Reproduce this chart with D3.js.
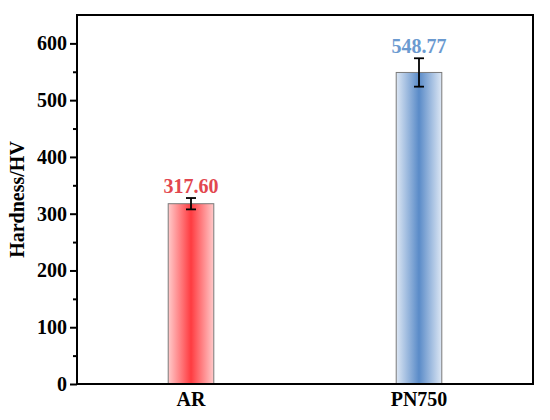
<!DOCTYPE html>
<html>
<head>
<meta charset="utf-8">
<script src="https://cdn.jsdelivr.net/npm/d3@7"></script>
<style>
html,body{margin:0;padding:0;background:#fff;}
svg{display:block;}
text{font-family:"Liberation Serif","Times New Roman",serif;font-weight:bold;}
</style>
</head>
<body>
<svg id="chart" width="550" height="420"></svg>
<script>
const categories = ["AR", "PN750"];
const hardness = [317.60, 548.77];
const errors = [10, 25];
const valueLabels = ["317.60", "548.77"];
const yTicks = [0, 100, 200, 300, 400, 500, 600];
const yMinorTicks = [50, 150, 250, 350, 450, 550];

const palette = [
  {edge: "#ffcaca", mid: "#ff3b40", text: "#e2474f"},
  {edge: "#dde7f4", mid: "#5a8bc8", text: "#6b9ad0"}
];

const W = 550, H = 420;
const m = {left: 77, right: 17, top: 15, bottom: 36};
const iw = W - m.left - m.right, ih = H - m.top - m.bottom;
const FS = 20;

const svg = d3.select("#chart");
const defs = svg.append("defs");
palette.forEach((p, i) => {
  const g = defs.append("linearGradient").attr("id", "grad" + i)
    .attr("x1", "0%").attr("x2", "100%").attr("y1", "0%").attr("y2", "0%");
  g.append("stop").attr("offset", "0%").attr("stop-color", p.edge);
  g.append("stop").attr("offset", "50%").attr("stop-color", p.mid);
  g.append("stop").attr("offset", "100%").attr("stop-color", p.edge);
});

const g = svg.append("g").attr("transform", `translate(${m.left},${m.top})`);

const x = d3.scaleBand().domain(categories).range([0, iw]).paddingInner(0.8).paddingOuter(0.4);
const y = d3.scaleLinear().domain([0, 650]).range([ih, 0]);

const data = categories.map((c, i) => ({c, v: hardness[i], e: errors[i], label: valueLabels[i], i}));

// bars
g.selectAll("rect.bar").data(data).enter().append("rect")
  .attr("class", "bar")
  .attr("x", d => x(d.c))
  .attr("width", x.bandwidth())
  .attr("y", d => y(d.v))
  .attr("height", d => y(0) - y(d.v))
  .attr("fill", d => `url(#grad${d.i})`)
  .attr("stroke", "#7a7a7a")
  .attr("stroke-width", 1);

// error bars
const eb = g.selectAll("g.err").data(data).enter().append("g").attr("class", "err");
eb.append("line")
  .attr("x1", d => x(d.c) + x.bandwidth() / 2).attr("x2", d => x(d.c) + x.bandwidth() / 2)
  .attr("y1", d => y(d.v + d.e)).attr("y2", d => y(d.v - d.e))
  .attr("stroke", "#000").attr("stroke-width", 1.8);
[1, -1].forEach(s => {
  eb.append("line")
    .attr("x1", d => x(d.c) + x.bandwidth() / 2 - 5).attr("x2", d => x(d.c) + x.bandwidth() / 2 + 5)
    .attr("y1", d => y(d.v + s * d.e)).attr("y2", d => y(d.v + s * d.e))
    .attr("stroke", "#000").attr("stroke-width", 1.8);
});

// value labels
g.selectAll("text.val").data(data).enter().append("text")
  .attr("class", "val")
  .attr("x", d => x(d.c) + x.bandwidth() / 2)
  .attr("y", d => y(d.v + d.e) - 5)
  .attr("text-anchor", "middle")
  .attr("font-size", FS)
  .attr("fill", d => palette[d.i].text)
  .text(d => d.label);

// axes
const yAxis = d3.axisLeft(y).tickValues(yTicks).tickSize(7).tickPadding(3).tickFormat(d3.format("d"));
const ya = g.append("g").call(yAxis);
ya.select(".domain").remove();
ya.selectAll("line").attr("stroke", "#000").attr("stroke-width", 2);
ya.selectAll("text").attr("font-size", FS).attr("fill", "#000")
  .attr("font-family", "'Liberation Serif','Times New Roman',serif").attr("font-weight", "bold");

const yMinor = d3.axisLeft(y).tickValues(yMinorTicks).tickSize(4).tickFormat("");
const ym = g.append("g").call(yMinor);
ym.select(".domain").remove();
ym.selectAll("line").attr("stroke", "#000").attr("stroke-width", 2);

const xAxis = d3.axisBottom(x).tickSize(0).tickPadding(8);
const xa = g.append("g").attr("transform", `translate(0,${ih})`).call(xAxis);
xa.select(".domain").remove();
xa.selectAll("text").attr("font-size", FS).attr("fill", "#000")
  .attr("font-family", "'Liberation Serif','Times New Roman',serif").attr("font-weight", "bold");

// frame
g.append("rect").attr("x", 0).attr("y", 0).attr("width", iw).attr("height", ih)
  .attr("fill", "none").attr("stroke", "#000").attr("stroke-width", 2);

// y title
svg.append("text")
  .attr("transform", `translate(24,${m.top + ih / 2}) rotate(-90)`)
  .attr("text-anchor", "middle")
  .attr("font-size", FS)
  .attr("fill", "#000")
  .text("Hardness/HV");
</script>
</body>
</html>
